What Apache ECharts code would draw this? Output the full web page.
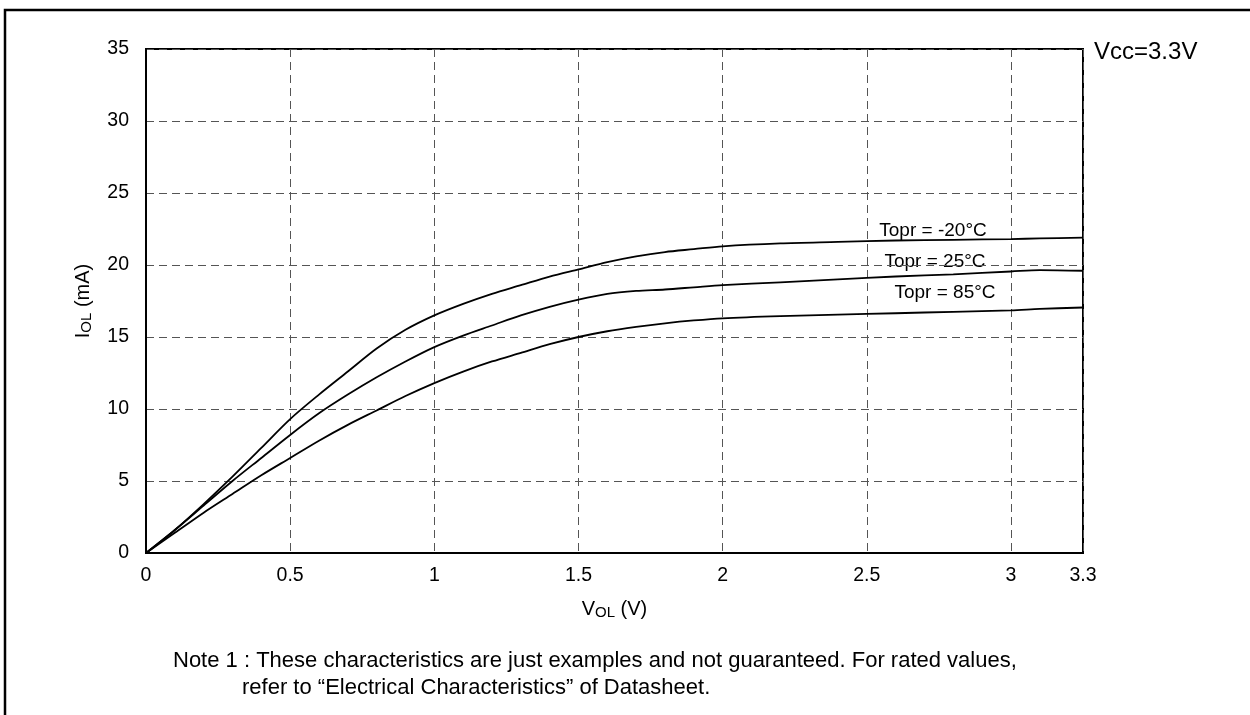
<!DOCTYPE html>
<html>
<head>
<meta charset="utf-8">
<script src="https://cdn.jsdelivr.net/npm/echarts@6/dist/echarts.min.js"></script>
<style>
  html, body { margin: 0; padding: 0; background: #fff; }
  #chart { width: 1250px; height: 715px; }
</style>
</head>
<body>
<div id="chart"></div>
<script>
// VOL (V) sample points
const vol = [0, 0.1, 0.2, 0.3, 0.4, 0.5, 0.6, 0.7, 0.8, 0.9, 1.0, 1.1, 1.2, 1.3, 1.4,
  1.5, 1.6, 1.7, 1.8, 1.9, 2.0, 2.2, 2.4, 2.6, 2.8, 3.0, 3.1, 3.25]

// IOL (mA) per temperature
const iolM20 = [0, 1.6, 3.4, 5.3, 7.3, 9.3, 11.0, 12.6, 14.2, 15.5, 16.5, 17.3, 18.0, 18.6, 19.2,
  19.7, 20.2, 20.6, 20.9, 21.1, 21.3, 21.5, 21.6, 21.7, 21.75, 21.8, 21.85, 21.9]
const iol25 = [0, 1.6, 3.3, 5.0, 6.6, 8.2, 9.7, 11.0, 12.2, 13.3, 14.3, 15.1, 15.8, 16.5, 17.1,
  17.6, 18.0, 18.2, 18.3, 18.45, 18.6, 18.8, 19.0, 19.2, 19.35, 19.55, 19.65, 19.6]
const iol85 = [0, 1.4, 2.8, 4.1, 5.4, 6.6, 7.8, 8.9, 9.9, 10.9, 11.8, 12.6, 13.3, 13.9, 14.5,
  15.0, 15.4, 15.7, 15.95, 16.15, 16.3, 16.45, 16.55, 16.65, 16.75, 16.85, 16.95, 17.05]

const seriesNames = ['Topr = -20°C', 'Topr = 25°C', 'Topr = 85°C']
const xMax = 3.25

const font = '"Liberation Sans", Arial, sans-serif'
const chart = echarts.init(document.getElementById('chart'))

const pairs = (ys) => vol.map((v, i) => [v, ys[i]])

const mkSeries = (name, ys) => ({
  name,
  type: 'line',
  data: pairs(ys),
  smooth: 0.3,
  showSymbol: false,
  lineStyle: { color: '#000', width: 1.8 }
})

const nameRich = {
  v: { fontSize: 20, fontFamily: font, color: '#000' },
  s: { fontSize: 15, fontFamily: font, color: '#000', padding: [6, 0, 0, 0] }
}

const option = {
  animation: false,
  grid: {
    left: 146, top: 49, right: 167, bottom: 162,
    show: true, borderColor: '#000', borderWidth: 2
  },
  xAxis: {
    type: 'value',
    min: 0,
    max: xMax,
    interval: 0.5,
    name: '{v|V}{s|OL}{v| (V)}',
    nameLocation: 'middle',
    nameGap: 46,
    nameTextStyle: { rich: nameRich },
    axisLine: { lineStyle: { color: '#000', width: 2 } },
    axisTick: { show: false },
    axisLabel: {
      color: '#000', fontSize: 19.5, fontFamily: font, margin: 13,
      formatter: (v) => (v === xMax ? '3.3' : String(v))
    },
    splitLine: { lineStyle: { color: '#555', type: [8, 5], width: 1 } }
  },
  yAxis: {
    type: 'value',
    min: 0,
    max: 35,
    interval: 5,
    name: '{v|I}{s|OL}{v| (mA)}',
    nameLocation: 'middle',
    nameGap: 52,
    nameTextStyle: { rich: nameRich },
    axisLine: { lineStyle: { color: '#000', width: 2 } },
    axisTick: { show: false },
    axisLabel: { color: '#000', fontSize: 19.5, fontFamily: font, margin: 17 },
    splitLine: { lineStyle: { color: '#555', type: [8, 5], width: 1 } }
  },
  series: [
    mkSeries(seriesNames[0], iolM20),
    mkSeries(seriesNames[1], iol25),
    mkSeries(seriesNames[2], iol85)
  ],
  graphic: [
    {
      type: 'rect',
      shape: { x: 5, y: 10, width: 1400, height: 900 },
      style: { fill: 'none', stroke: '#000', lineWidth: 2.5 },
      silent: true
    },
    {
      type: 'text', left: 1094, top: 40,
      style: { text: 'Vcc=3.3V', fontSize: 24, fontFamily: font, fill: '#000' }
    },
    {
      type: 'text', x: 933, y: 231,
      style: { text: seriesNames[0], fontSize: 19, fontFamily: font, fill: '#000', align: 'center', verticalAlign: 'middle' }
    },
    {
      type: 'text', x: 935, y: 262,
      style: { text: seriesNames[1], fontSize: 19, fontFamily: font, fill: '#000', align: 'center', verticalAlign: 'middle' }
    },
    {
      type: 'text', x: 945, y: 293,
      style: { text: seriesNames[2], fontSize: 19, fontFamily: font, fill: '#000', align: 'center', verticalAlign: 'middle' }
    },
    {
      type: 'text', left: 173, top: 650,
      style: {
        text: 'Note 1 : These characteristics are just examples and not guaranteed. For rated values,',
        fontSize: 22, fontFamily: font, fill: '#000'
      }
    },
    {
      type: 'text', left: 242, top: 677,
      style: {
        text: 'refer to “Electrical Characteristics” of Datasheet.',
        fontSize: 22, fontFamily: font, fill: '#000'
      }
    }
  ]
}

chart.setOption(option)
</script>
</body>
</html>
